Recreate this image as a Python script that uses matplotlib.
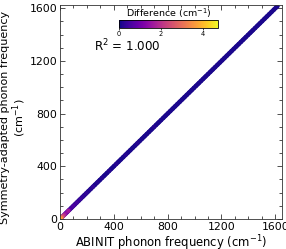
import matplotlib
matplotlib.use("Agg")
import matplotlib.pyplot as plt
import numpy as np
from matplotlib.ticker import MultipleLocator

# ABINIT phonon frequencies (cm^-1), symmetry-adapted frequencies and differences
abinit_freq = [2, 8, 15, 22, 30, 38, 45, 55, 62, 70, 85, 98, 110, 125, 140, 152, 168,
               180, 195, 210, 228, 245, 260, 278, 295, 312, 330, 348, 365, 382, 400,
               418, 435, 452, 470, 488, 505, 522, 540, 558, 575, 592, 610, 628, 645,
               662, 680, 698, 715, 732, 750, 768, 785, 802, 820, 838, 855, 872, 890,
               908, 925, 942, 960, 978, 995, 1012, 1030, 1048, 1065, 1082, 1100, 1118,
               1135, 1152, 1170, 1188, 1205, 1222, 1240, 1258, 1275, 1292, 1310, 1328,
               1345, 1362, 1380, 1398, 1415, 1432, 1450, 1468, 1485, 1502, 1520, 1538,
               1555, 1572, 1590, 1608, 1615]
difference = [3.8, 3.2, 2.6, 2.2, 1.8, 1.5, 1.2, 0.9, 1.6, 0.7, 0.5, 0.6, 0.4, 0.5, 0.3,
              0.4, 0.3, 0.2, 0.3, 0.2, 0.2, 0.3, 0.1, 0.2, 0.1, 0.2, 0.1, 0.1, 0.2, 0.1,
              0.1, 0.2, 0.1, 0.1, 0.1, 0.2, 0.1, 0.1, 0.1, 0.1, 0.2, 0.1, 0.1, 0.1, 0.1,
              0.1, 0.1, 0.2, 0.1, 0.1, 0.1, 0.1, 0.1, 0.1, 0.1, 0.1, 0.1, 0.1, 0.1, 0.1,
              0.1, 0.1, 0.1, 0.1, 0.1, 0.1, 0.1, 0.1, 0.1, 0.1, 0.1, 0.1, 0.1, 0.1, 0.1,
              0.1, 0.1, 0.1, 0.1, 0.1, 0.1, 0.1, 0.1, 0.1, 0.1, 0.1, 0.1, 0.1, 0.1, 0.1,
              0.1, 0.1, 0.1, 0.1, 0.1, 0.1, 0.1, 0.1, 0.1, 0.1, 0.1]
sym_freq = [a + d * 0.0 for a, d in zip(abinit_freq, difference)]
r2_text = "R$^2$ = 1.000"
ticks = [0, 400, 800, 1200, 1600]

fig = plt.figure(figsize=(2.86, 2.49), dpi=100)
ax = fig.add_axes([60/286, 30/249, 222/286, 214/249])

order = np.argsort(difference)
x = np.array(abinit_freq)[order]
y = np.array(sym_freq)[order]
c = np.array(difference)[order]
ax.plot(abinit_freq, sym_freq, color="#1a0a8a", lw=3.2, zorder=1, solid_capstyle="round")
sc = ax.scatter(x, y, c=c, cmap="plasma", vmin=0, vmax=4.7, s=10, edgecolors="none", zorder=2)

ax.set_xlim(0, 1650)
ax.set_ylim(0, 1625)
ax.set_xticks(ticks)
ax.set_yticks(ticks)
ax.xaxis.set_minor_locator(MultipleLocator(100))
ax.yaxis.set_minor_locator(MultipleLocator(100))
ax.tick_params(which="both", direction="in", top=True, right=True, labelsize=7.8,
               colors="#333333", labelcolor="black", width=0.6)
ax.tick_params(which="major", length=3.5, pad=2)
ax.tick_params(which="minor", length=2)
for s in ax.spines.values():
    s.set_linewidth(0.6)
    s.set_color("#333333")
ax.set_xlabel("ABINIT phonon frequency (cm$^{-1}$)", fontsize=8.4, labelpad=1.5)
ax.set_ylabel("Symmetry-adapted phonon frequency\n(cm$^{-1}$)", fontsize=8.0,
              linespacing=1.05)
ax.yaxis.set_label_coords(-0.145, 0.475)

cax = fig.add_axes([119/286, 1 - 28/249, 99/286, 8/249])
cb = fig.colorbar(sc, cax=cax, orientation="horizontal")
cb.set_ticks([0, 2, 4])
cb.ax.tick_params(labelsize=4.8, length=1.5, width=0.5, pad=0.5)
cb.outline.set_linewidth(0.6)
cb.ax.set_title("Difference (cm$^{-1}$)", fontsize=6.8, pad=1.5)

ax.text(0.155, 0.81, r2_text, transform=ax.transAxes, fontsize=8.6, va="center")

fig.savefig("out.png", dpi=100)
